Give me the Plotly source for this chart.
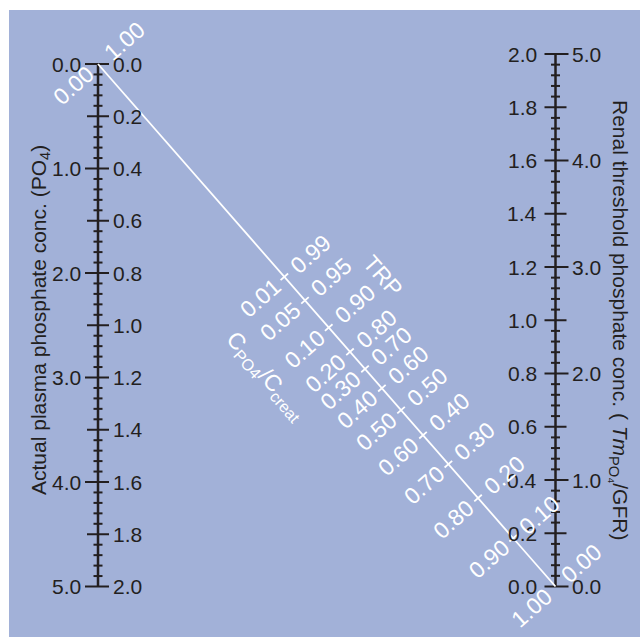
import math
import plotly.graph_objects as go

# ---------------- data ----------------
# inner (mmol/L) scale labels, shared by both vertical scales
inner_vals = [0.0, 0.2, 0.4, 0.6, 0.8, 1.0, 1.2, 1.4, 1.6, 1.8, 2.0]
inner_labels = ["0.0", "0.2", "0.4", "0.6", "0.8", "1.0", "1.2", "1.4", "1.6", "1.8", "2.0"]
# outer (mg/dL) scale labels
outer_vals = [0.0, 1.0, 2.0, 3.0, 4.0, 5.0]
outer_labels = ["0.0", "1.0", "2.0", "3.0", "4.0", "5.0"]
MG_PER_MMOL = 2.5          # outer = 2.5 * inner
MINOR_STEP = 0.04          # minor tick step on the inner scale

# diagonal scale: C_PO4/C_creat and TRP = 1 - ratio
c_ratio_labels = ["0.01", "0.05", "0.10", "0.20", "0.30", "0.40", "0.50",
                  "0.60", "0.70", "0.80", "0.90", "1.00"]
trp_vals = [0.99, 0.95, 0.90, 0.80, 0.70, 0.60, 0.50, 0.40, 0.30, 0.20, 0.10, 0.00]
trp_labels = ["0.99", "0.95", "0.90", "0.80", "0.70", "0.60", "0.50",
              "0.40", "0.30", "0.20", "0.10", "0.00"]
start_labels = ("0.00", "1.00")   # ratio / TRP at the top end of the diagonal

left_title = "Actual plasma phosphate conc. (PO<sub>4</sub>)"
right_title = "Renal threshold phosphate conc. ( <i>Tm</i><sub>PO₄</sub>/GFR)"

# ---------------- geometry / style ----------------
W, H = 640, 637
X0_PX, Y0_PX = 98.0, 64.0        # pixel of data (0,0)
PX_X = 457.5                      # px per x unit (left axis x=0, right axis x=1)
PX_Y = 261.25                     # px per inner unit on the left scale
K_RIGHT = 266.25 / 261.25         # right scale relative length

INK = "#231F20"
BG = "#A2B1D8"
FONT = "Liberation Sans, Arial, sans-serif"
TICK_FS, TITLE_FS, DIAG_FS = 21, 21, 23

x_range = [-X0_PX / PX_X, (W - X0_PX) / PX_X]
y_range = [(H - Y0_PX) / PX_Y, -Y0_PX / PX_Y]


def left_y(v):
    return v


def right_y(v):
    return 2.0 - K_RIGHT * v


def trp_position(trp):
    # Walton-Bijvoet relation between TRP and TmP/GFR : PO4 ratio
    f = trp if trp <= 0.86 else 0.3 * trp / (1.0 - 0.8 * trp)
    t = 1.0 / (1.0 + K_RIGHT * f)
    return t, 2.0 * t


def px2dx(p):
    return p / PX_X


def px2dy(p):
    return p / PX_Y


fig = go.Figure()


# ---------- vertical scales ----------
def add_scale(x_axis, ymap, outer_side):
    xs, ys = [], []
    fig.add_trace(go.Scatter(x=[x_axis, x_axis], y=[ymap(0.0), ymap(2.0)], mode="lines",
                             line=dict(color=INK, width=2.5), hoverinfo="skip", showlegend=False))
    n = int(round(2.0 / MINOR_STEP))
    for i in range(n + 1):
        v = i * MINOR_STEP
        y = ymap(v)
        is_major = abs(v / 0.2 - round(v / 0.2)) < 1e-6
        is_outer = abs(v * MG_PER_MMOL - round(v * MG_PER_MMOL)) < 1e-6
        lo = hi = 4.5
        if is_major:
            lo = hi = 11
        if is_outer:
            if outer_side < 0:
                lo = 13
            else:
                hi = 13
        xs += [x_axis - px2dx(lo), x_axis + px2dx(hi), None]
        ys += [y, y, None]
    fig.add_trace(go.Scatter(x=xs, y=ys, mode="lines", line=dict(color=INK, width=2),
                             hoverinfo="skip", showlegend=False))


add_scale(0.0, left_y, outer_side=-1)
add_scale(1.0, right_y, outer_side=1)

annotations = []


def label(x, y, text, xanchor, xshift, size=TICK_FS, color=INK):
    annotations.append(dict(x=x, y=y, xref="x", yref="y", text=text, showarrow=False,
                            xanchor=xanchor, yanchor="middle", xshift=xshift,
                            font=dict(family=FONT, size=size, color=color)))


for v, t in zip(inner_vals, inner_labels):
    label(0.0, left_y(v), t, "left", 13)
    label(1.0, right_y(v), t, "right", -17)
for v, t in zip(outer_vals, outer_labels):
    label(0.0, left_y(v / MG_PER_MMOL), t, "right", -15)
    label(1.0, right_y(v / MG_PER_MMOL), t, "left", 14)

# ---------- diagonal ----------
fig.add_trace(go.Scatter(x=[0.0, 1.0], y=[left_y(0.0), right_y(0.0)], mode="lines",
                         line=dict(color="white", width=1.8), hoverinfo="skip", showlegend=False))

ldx, ldy = PX_X * 1.0, PX_Y * 2.0          # line direction in px (y down)
L = math.hypot(ldx, ldy)
ux, uy = ldy / L, -ldx / L                  # perpendicular, pointing up-right (px, y down)
perp_angle = -math.degrees(math.atan2(ldx, ldy))
line_angle = math.degrees(math.atan2(ldy, ldx))

tx, ty = [], []
TICK = 5
for trp in trp_vals[:-1]:
    x, y = trp_position(trp)
    tx += [x - px2dx(TICK * ux), x + px2dx(TICK * ux), None]
    ty += [y - px2dy(TICK * uy), y + px2dy(TICK * uy), None]
fig.add_trace(go.Scatter(x=tx, y=ty, mode="lines", line=dict(color="white", width=1.8),
                         hoverinfo="skip", showlegend=False))

D_RIGHT, D_LEFT = 35, 32


def diag_label(x, y, text, d):
    annotations.append(dict(x=x, y=y, xref="x", yref="y", text=text, showarrow=False,
                            xanchor="center", yanchor="middle", textangle=perp_angle,
                            xshift=d * ux, yshift=-d * uy,
                            font=dict(family=FONT, size=DIAG_FS, color="white")))


for trp, lr, lt in zip(trp_vals, c_ratio_labels, trp_labels):
    x, y = trp_position(trp)
    diag_label(x, y, lt, D_RIGHT)
    diag_label(x, y, lr, -D_LEFT)
diag_label(0.0, 0.0, start_labels[0], -D_LEFT)
diag_label(0.0, 0.0, start_labels[1], D_RIGHT)


def px_to_data(px, py):
    return (px - X0_PX) / PX_X, (py - Y0_PX) / PX_Y


for (px, py), text, ang in [((383, 276), "TRP", line_angle),
                            ((266, 376), "C<sub>PO4</sub>/C<sub>creat</sub>", line_angle)]:
    x, y = px_to_data(px, py)
    annotations.append(dict(x=x, y=y, xref="x", yref="y", text=text, showarrow=False,
                            textangle=ang, font=dict(family=FONT, size=DIAG_FS, color="white")))

# titles
for (px, py), text, ang in [((40, 320), left_title, -90), ((619, 320), right_title, 90)]:
    x, y = px_to_data(px, py)
    annotations.append(dict(x=x, y=y, xref="x", yref="y", text=text, showarrow=False,
                            textangle=ang, font=dict(family=FONT, size=TITLE_FS, color=INK)))

fig.update_layout(
    width=W, height=H, margin=dict(l=0, r=0, t=0, b=0),
    paper_bgcolor="white", plot_bgcolor="rgba(0,0,0,0)",
    xaxis=dict(range=x_range, visible=False, fixedrange=True),
    yaxis=dict(range=y_range, visible=False, fixedrange=True),
    shapes=[dict(type="rect", xref="paper", yref="paper", x0=9 / W, x1=1, y0=0,
                 y1=(H - 10) / H, fillcolor=BG, line=dict(width=0), layer="below")],
    annotations=annotations,
    showlegend=False,
)

fig.write_html("out.html", config={"displayModeBar": False},
               post_script="document.body.style.margin='0';document.body.style.overflow='hidden';")
